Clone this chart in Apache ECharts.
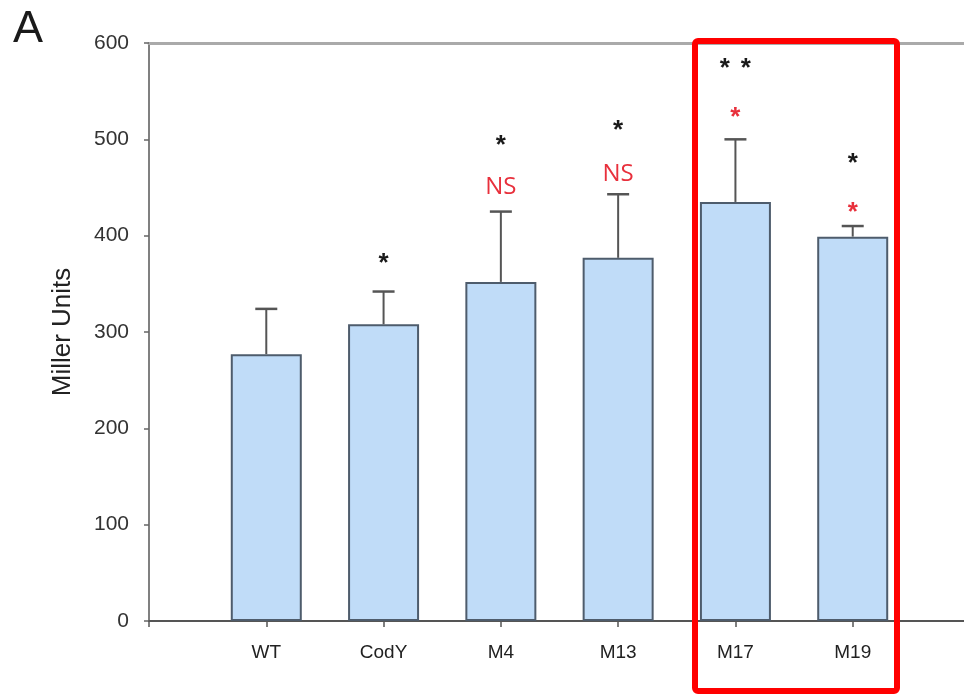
<!DOCTYPE html>
<html>
<head>
<meta charset="utf-8">
<script src="https://cdn.jsdelivr.net/npm/echarts@6/dist/echarts.min.js"></script>
<style>
html,body{margin:0;padding:0;background:#fff;}
#chart{width:964px;height:696px;}
</style>
</head>
<body>
<div id="chart"></div>
<script>
// ---- data ----
const categories = ['', 'WT', 'CodY', 'M4', 'M13', 'M17', 'M19', ''];
const meanValues = [null, 277, 308, 352, 377, 435, 399, null];
const errorUpper = [null, 324, 342, 425, 443, 500, 410, null];
const yTickMin = 0, yTickMax = 600, yTickStep = 100;
const blackMarkText = ['', '', '*', '*', '*', '**', '*', ''];
const blackMarkValue = [null, null, 378, 501, 516, 580, 482, null];
const redMarkText = ['', '', '', 'NS', 'NS', '*', '*', ''];
const redMarkValue = [null, null, null, 450, 464, 530, 431, null];

const FONT = 'Liberation Sans';
const chart = echarts.init(document.getElementById('chart'), null, {renderer: 'canvas'});

const errData = [];
categories.forEach((c, i) => {
  if (meanValues[i] != null) errData.push([i, meanValues[i], errorUpper[i]]);
});
const markData = [];
categories.forEach((c, i) => {
  if (blackMarkText[i]) markData.push([i, blackMarkValue[i], blackMarkText[i], '#1a1a1a']);
  if (redMarkText[i]) markData.push([i, redMarkValue[i], redMarkText[i], '#e8303c']);
});

const option = {
  backgroundColor: '#ffffff',
  animation: false,
  grid: {left: 149, width: 821, top: 43, bottom: 75, containLabel: false, outerBoundsMode: 'none'},
  xAxis: [{
    type: 'category',
    data: categories,
    boundaryGap: false,
    axisLine: {show: true, lineStyle: {color: '#555', width: 2}},
    axisTick: {show: true, length: 6, lineStyle: {color: '#555', width: 1.5}},
    axisLabel: {color: '#222', fontFamily: FONT, fontSize: 19, margin: 22},
    splitLine: {show: false}
  }, {
    type: 'category',
    data: categories,
    position: 'top',
    boundaryGap: false,
    axisLine: {show: true, lineStyle: {color: '#aaaaaa', width: 3}},
    axisTick: {show: false},
    axisLabel: {show: false},
    splitLine: {show: false}
  }],
  yAxis: {
    type: 'value',
    min: yTickMin, max: yTickMax, interval: yTickStep,
    name: 'Miller Units',
    nameLocation: 'middle',
    nameGap: 73,
    nameTextStyle: {color: '#222', fontFamily: FONT, fontSize: 26},
    axisLine: {show: true, lineStyle: {color: '#808080', width: 2}},
    axisTick: {show: true, length: 5, lineStyle: {color: '#666', width: 1.5}},
    axisLabel: {color: '#333', fontFamily: FONT, fontSize: 21, margin: 20},
    splitLine: {show: false}
  },
  series: [{
    type: 'bar',
    data: meanValues,
    barWidth: 71,
    itemStyle: {color: '#c0dcf8', borderColor: '#4e5c6c', borderWidth: 2},
    z: 2
  }, {
    type: 'custom',
    data: errData,
    z: 3,
    renderItem: function (params, api) {
      const p1 = api.coord([api.value(0), api.value(1)]);
      const p2 = api.coord([api.value(0), api.value(2)]);
      const hw = 11;
      return {
        type: 'group',
        children: [
          {type: 'line', shape: {x1: p1[0], y1: p1[1], x2: p2[0], y2: p2[1]}, style: {stroke: '#555', lineWidth: 2}},
          {type: 'line', shape: {x1: p2[0] - hw, y1: p2[1], x2: p2[0] + hw, y2: p2[1]}, style: {stroke: '#555', lineWidth: 2.5}}
        ]
      };
    }
  }, {
    type: 'custom',
    data: markData,
    z: 4,
    renderItem: function (params, api) {
      const d = markData[params.dataIndex];
      const p = api.coord([d[0], d[1]]);
      const txt = d[2];
      const isStar = txt.indexOf('*') >= 0;
      if (!isStar) {
        return {type: 'text', x: p[0], y: p[1], style: {text: txt, fill: d[3], font: '24px "Open Sans"', align: 'center', verticalAlign: 'middle'}};
      }
      const n = txt.length;
      const children = [];
      for (let k = 0; k < n; k++) {
        const off = (k - (n - 1) / 2) * 21;
        children.push({type: 'text', x: p[0] + off, y: p[1] + 7, style: {text: '*', fill: d[3], font: 'bold 26px "Liberation Sans"', align: 'center', verticalAlign: 'middle'}});
      }
      return {type: 'group', children: children};
    }
  }],
  graphic: [
    {type: 'text', left: 13, top: 7, style: {text: 'A', fill: '#1a1a1a', font: '45px "Liberation Sans"'}},
    {type: 'rect', shape: {x: 695, y: 41, width: 202, height: 650, r: 3}, style: {fill: 'none', stroke: '#ff0000', lineWidth: 6}, z: 10}
  ]
};
chart.setOption(option);
</script>
</body>
</html>
